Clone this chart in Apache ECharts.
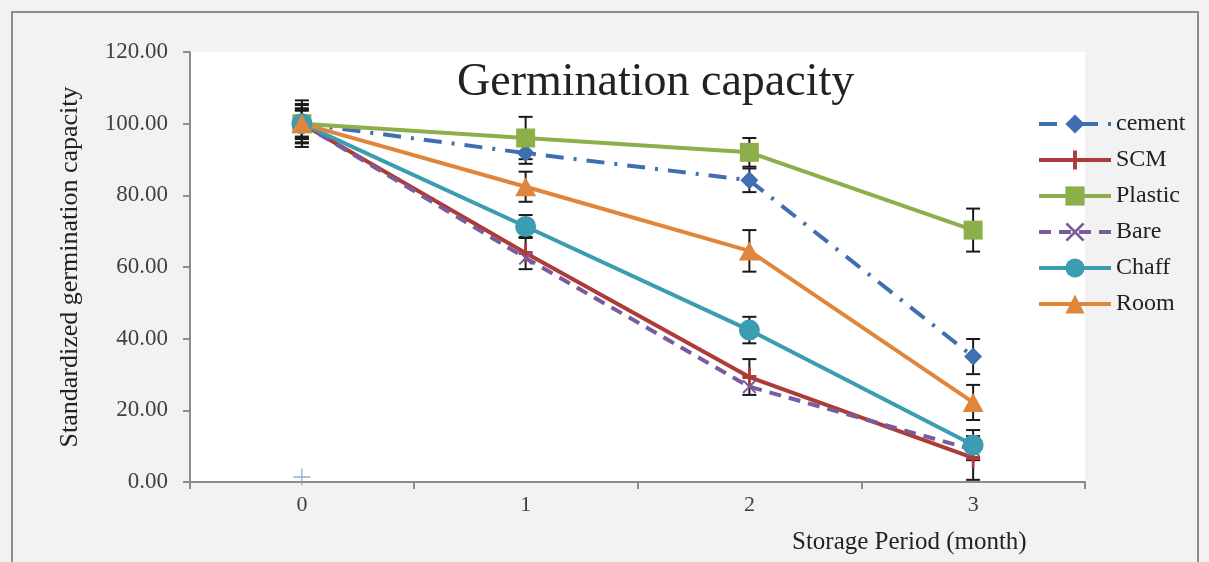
<!DOCTYPE html>
<html>
<head>
<meta charset="utf-8">
<script src="https://cdn.jsdelivr.net/npm/echarts@6/dist/echarts.min.js"></script>
<style>
  html, body { margin: 0; padding: 0; background: #f2f2f2; }
  #chart { width: 1209px; height: 562px; }
</style>
</head>
<body>
<div id="chart"></div>
<script>
// storage period (months)
const months = ['0', '1', '2', '3']
const yTicks = [0, 20, 40, 60, 80, 100, 120]

// standardized germination capacity
const cement = [100, 91.8, 84.2, 35.0]
const scm = [100, 63.9, 29.3, 6.7]
const plastic = [100, 96.0, 92.0, 70.3]
const bare = [100, 62.5, 26.6, 9.0]
const chaff = [100, 71.3, 42.4, 10.3]
const room = [100, 82.4, 64.5, 22.2]

// +/- error for each point
const cementErr = [4.3, 3.0, 3.3, 4.9]
const scmErr = [6.5, 4.5, 5.0, 6.1]
const plasticErr = [3.6, 5.9, 4.0, 6.0]
const bareErr = [5.5, 0, 0, 0]
const chaffErr = [5.2, 3.2, 3.7, 4.2]
const roomErr = [4.0, 4.2, 5.8, 4.9]

// stray marker at month 0
const strayPoint = [['0', 1.4]]

const font = 'Liberation Serif, serif'
const textColor = '#404040'

const plusPath = 'path://M4,0 H6 V4 H10 V6 H6 V10 H4 V6 H0 V4 H4 Z'
const thinPlusPath = 'path://M4.6,0 H5.4 V4.6 H10 V5.4 H5.4 V10 H4.6 V5.4 H0 V4.6 H4.6 Z'
const crossPath = 'path://M0,1 L1,0 L5,4 L9,0 L10,1 L6,5 L10,9 L9,10 L5,6 L1,10 L0,9 L4,5 Z'

const seriesDefs = [
  { name: 'cement', data: cement, err: cementErr, color: '#3f6fb0', symbol: 'diamond', size: 18, dash: [18, 10, 3, 10] },
  { name: 'SCM', data: scm, err: scmErr, color: '#ad3b38', symbol: plusPath, size: [14, 20], dash: 'solid' },
  { name: 'Plastic', data: plastic, err: plasticErr, color: '#8caf4b', symbol: 'rect', size: 19, dash: 'solid' },
  { name: 'Bare', data: bare, err: bareErr, color: '#7a5c9e', symbol: crossPath, size: 14, dash: [12, 8] },
  { name: 'Chaff', data: chaff, err: chaffErr, color: '#3b9cb2', symbol: 'circle', size: 21, dash: 'solid' },
  { name: 'Room', data: room, err: roomErr, color: '#e0863c', symbol: 'triangle', size: [21, 19], dash: 'solid' }
]

function errorBars(def) {
  return {
    type: 'custom',
    name: def.name + ' err',
    z: 1,
    silent: true,
    data: def.data.map((v, i) => [i, v - def.err[i], v + def.err[i]]).filter((d, i) => def.err[i] > 0),
    renderItem: (params, api) => {
      const lo = api.coord([api.value(0), api.value(1)])
      const hi = api.coord([api.value(0), api.value(2)])
      const w = 7
      const style = { stroke: '#1a1a1a', lineWidth: 2 }
      return {
        type: 'group',
        children: [
          { type: 'line', shape: { x1: lo[0], y1: lo[1], x2: hi[0], y2: hi[1] }, style },
          { type: 'line', shape: { x1: lo[0] - w, y1: lo[1], x2: lo[0] + w, y2: lo[1] }, style },
          { type: 'line', shape: { x1: hi[0] - w, y1: hi[1], x2: hi[0] + w, y2: hi[1] }, style }
        ]
      }
    }
  }
}

const chart = echarts.init(document.getElementById('chart'))

chart.setOption({
  backgroundColor: '#f2f2f2',
  animation: false,
  title: {
    text: 'Germination capacity',
    left: 452,
    top: 55,
    textStyle: { fontFamily: font, fontSize: 46, fontWeight: 'normal', color: '#222' }
  },
  legend: {
    orient: 'vertical',
    left: 1032,
    top: 107,
    itemWidth: 72,
    itemHeight: 24,
    itemGap: 12,
    data: seriesDefs.map(d => d.name),
    lineStyle: { width: 4 },
    textStyle: { fontFamily: font, fontSize: 24, color: '#222' }
  },
  grid: {
    left: 190,
    right: 124,
    top: 52,
    bottom: 80,
    show: true,
    backgroundColor: '#ffffff',
    borderWidth: 0
  },
  graphic: [
    {
      type: 'rect',
      shape: { x: 12, y: 12, width: 1186, height: 600 },
      style: { fill: 'none', stroke: '#8c8c8c', lineWidth: 2 },
      silent: true
    },
    {
      type: 'text',
      left: 792,
      top: 530,
      style: { text: 'Storage Period (month)', font: '25px ' + font, fill: '#222' }
    }
  ],
  xAxis: {
    type: 'category',
    data: months,
    boundaryGap: true,
    axisLine: { lineStyle: { color: '#8c8c8c', width: 2 } },
    axisTick: { show: true, length: 7, lineStyle: { color: '#8c8c8c', width: 2 } },
    axisLabel: { fontFamily: font, fontSize: 22, color: textColor, margin: 12 }
  },
  yAxis: {
    type: 'value',
    min: yTicks[0],
    max: yTicks[yTicks.length - 1],
    interval: 20,
    name: 'Standardized germination capacity',
    nameLocation: 'middle',
    nameGap: 107,
    nameTextStyle: { fontFamily: font, fontSize: 26, color: '#222' },
    axisLine: { show: true, lineStyle: { color: '#8c8c8c', width: 2 } },
    axisTick: { show: true, length: 7, lineStyle: { color: '#8c8c8c', width: 2 } },
    splitLine: { show: false },
    axisLabel: {
      fontFamily: font,
      fontSize: 23,
      color: textColor,
      margin: 22,
      formatter: v => v.toFixed(2)
    }
  },
  series: [
    ...seriesDefs.map(errorBars),
    ...seriesDefs.map(d => ({
      type: 'line',
      name: d.name,
      data: d.data,
      z: 3,
      symbol: d.symbol,
      symbolSize: d.size,
      showAllSymbol: true,
      color: d.color,
      itemStyle: { color: d.color },
      lineStyle: { color: d.color, width: 4, type: d.dash }
    })),
    {
      type: 'scatter',
      name: 'stray',
      data: strayPoint,
      symbol: thinPlusPath,
      symbolSize: 17,
      itemStyle: { color: '#7b98d2' },
      z: 4
    }
  ]
})
</script>
</body>
</html>
